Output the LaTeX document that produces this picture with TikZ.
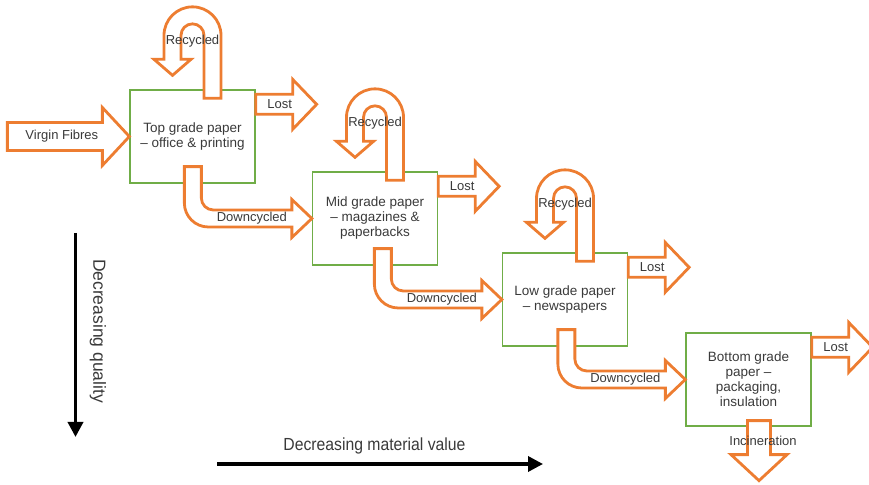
\documentclass[tikz,border=0pt]{standalone}
\usepackage{fontspec}
\setmainfont{Liberation Sans}
\newfontfamily\axfont[FakeStretch=0.9]{Liberation Sans}
\usetikzlibrary{calc,arrows.meta}
\definecolor{orng}{HTML}{ED7D31}
\definecolor{grn}{HTML}{70AD47}
\definecolor{txt}{HTML}{3A3A3A}

\newcommand\recycarrow[1]{%
  \draw[hollow] (#1.north) ++(28.5,-9) -- ++(0,63) arc[start angle=0, end angle=180, radius=28.5]
    -- ++(0,-24) -- ++(-10,0) -- ++(18.5,-16) -- ++(18.5,16) -- ++(-10,0) -- ++(0,24)
    arc[start angle=180, end angle=0, radius=11.5] -- ++(0,-63) -- cycle;
  \node[lbl] (#1-rec) at ($(#1.north)+(0,48)$) {Recycled};}
\newcommand\lostarrow[1]{%
  \draw[hollow] (#1.north east) ++(0,-5) -- ++(37,0) -- ++(0,15) -- ++(24,-25) -- ++(-24,-25)
    -- ++(0,15) -- ++(-37,0) -- cycle;
  \node[lbl] (#1-lost) at ($(#1.north east)+(24,-15)$) {Lost};}
\newcommand\downcycarrow[2]{%
  \draw[hollow] let \p1=(#1.south), \p2=(#2.west) in
    (\x2-127.5pt,\y1+17pt) -- (\x2-127.5pt,\y2+15.5pt) arc[start angle=180, end angle=270, radius=24]
    -- (\x2-20pt,\y2-8.5pt) -- (\x2-20pt,\y2-19pt) -- (#2.west) -- (\x2-20pt,\y2+19pt)
    -- (\x2-20pt,\y2+8.5pt) -- (\x2-98.5pt,\y2+8.5pt) arc[start angle=270, end angle=180, radius=12]
    -- (\x2-110.5pt,\y1+17pt) -- cycle;
  \node[lbl] (#1-down) at ($(#2.west)+(-60,0)$) {Downcycled};}

\begin{document}
\begin{tikzpicture}[x=1pt, y=1pt,
    box/.style={draw=grn, line width=1.3pt, minimum width=125pt, minimum height=93pt,
      align=center, text=txt, font=\fontsize{13.5}{15}\selectfont},
    hollow/.style={draw=orng, fill=white, line width=2.8pt},
    lbl/.style={text=txt, font=\fontsize{13}{15}\selectfont, inner sep=0pt},
    axis/.style={line width=3.5pt, -{Triangle[length=15pt, width=15pt]}},
    axlbl/.style={text=txt, inner sep=0pt}]
\useasboundingbox (0,0) rectangle (869,484);

\node[box] (b1) at (192.5,347.5) {Top grade paper\\– office \& printing};
\node[box] (b2) at (375,265.5) {Mid grade paper\\– magazines \&\\paperbacks};
\node[box] (b3) at (565,184.5) {Low grade paper\\– newspapers};
\node[box] (b4) at (748.5,104.5) {Bottom grade\\paper –\\packaging,\\insulation};

% virgin fibres in
\draw[hollow] (b1.west) -- ++(-27,29) -- ++(0,-15) -- ++(-95,0) -- ++(0,-28) -- ++(95,0) -- ++(0,-15) -- cycle;
\node[lbl] (vf) at ($(b1.west)+(-67.5,0)$) {Virgin Fibres};

\recycarrow{b1}
\recycarrow{b2}
\recycarrow{b3}
\lostarrow{b1}
\lostarrow{b2}
\lostarrow{b3}
\lostarrow{b4}
\downcycarrow{b1}{b2}
\downcycarrow{b2}{b3}
\downcycarrow{b3}{b4}

% incineration out
\draw[hollow] (b4.south) ++(-1,6) -- ++(0,-34) -- ++(-16.5,0) -- ++(28,-26) -- ++(28,26) -- ++(-16.5,0) -- ++(0,34) -- cycle;
\node[lbl] (inc) at ($(b4.south)+(14.5,-14)$) {Incineration};

% axes
\coordinate (q0) at (75.5,251);
\coordinate (q1) at (75.5,47);
\draw[axis] (q0) -- (q1);
\node[axlbl, rotate=-90, font=\fontsize{17.5}{20}\selectfont] (qual) at (98,153) {Decreasing quality};
\coordinate (v0) at (217,20);
\coordinate (v1) at (543,20);
\draw[axis] (v0) -- (v1);
\node[axlbl, font=\axfont\fontsize{17.5}{20}\selectfont] (val) at (374.5,38) {Decreasing material value};
\end{tikzpicture}
\end{document}
